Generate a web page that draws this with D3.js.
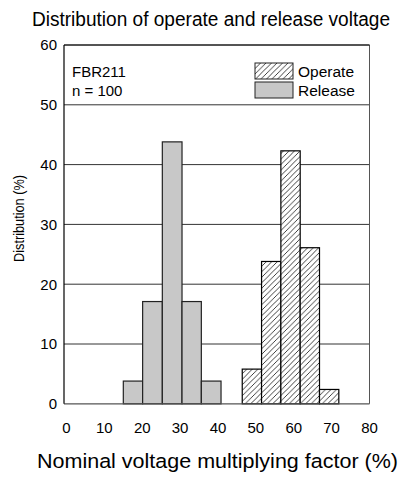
<!DOCTYPE html>
<html>
<head>
<meta charset="utf-8">
<script src="https://cdn.jsdelivr.net/npm/d3@7"></script>
<style>
  body { margin: 0; background: #fff; }
  svg { font-family: "Liberation Sans", Arial, sans-serif; }
</style>
</head>
<body>
<div class="canvas"></div>
<script>
// data
const releaseEdges = [15.0, 20.1, 25.3, 30.5, 35.6, 40.8];
const releaseValues = [3.8, 17.1, 43.8, 17.1, 3.8];
const operateEdges = [46.4, 51.5, 56.6, 61.7, 66.8, 71.9];
const operateValues = [5.8, 23.8, 42.3, 26.1, 2.4];
const xTicks = [0, 10, 20, 30, 40, 50, 60, 70, 80];
const yTicks = [0, 10, 20, 30, 40, 50, 60];
const legendItems = ['Operate', 'Release'];
const notes = ['FBR211', 'n = 100'];

const dims = { width: 404, height: 480 };
const frame = { left: 64, right: 369.5, top: 45, bottom: 403.8 };

const svg = d3.select('.canvas')
    .append('svg')
    .attr('width', dims.width)
    .attr('height', dims.height);

const defs = svg.append('defs');
const hatch = defs.append('pattern')
    .attr('id', 'hatch')
    .attr('patternUnits', 'userSpaceOnUse')
    .attr('width', 5.5)
    .attr('height', 5.5);
hatch.append('rect').attr('width', 5.5).attr('height', 5.5).attr('fill', '#fff');
hatch.append('path')
    .attr('d', 'M0,5.5 L5.5,0 M-1,1 L1,-1 M4.5,6.5 L6.5,4.5')
    .attr('stroke', '#111')
    .attr('stroke-width', 0.8);

const x = d3.scaleLinear().domain([0, 80]).range([66.5, 369.5]);
const y = d3.scaleLinear().domain([0, 60]).range([frame.bottom, frame.top]);

// grid lines
svg.append('g')
    .selectAll('line')
    .data(yTicks.filter(t => t > 0 && t < 60))
    .enter().append('line')
        .attr('x1', frame.left)
        .attr('x2', frame.right)
        .attr('y1', d => y(d))
        .attr('y2', d => y(d))
        .attr('stroke', '#333')
        .attr('stroke-width', 1);

// bars
const toBins = (edges, values) => values.map((v, i) => ({ x0: edges[i], x1: edges[i + 1], v }));

svg.append('g')
    .selectAll('rect')
    .data(toBins(releaseEdges, releaseValues))
    .enter().append('rect')
        .attr('x', d => x(d.x0))
        .attr('width', d => x(d.x1) - x(d.x0))
        .attr('y', d => y(d.v))
        .attr('height', d => y(0) - y(d.v))
        .attr('fill', '#c8c8c8')
        .attr('stroke', '#222')
        .attr('stroke-width', 1.2);

svg.append('g')
    .selectAll('rect')
    .data(toBins(operateEdges, operateValues))
    .enter().append('rect')
        .attr('x', d => x(d.x0))
        .attr('width', d => x(d.x1) - x(d.x0))
        .attr('y', d => y(d.v))
        .attr('height', d => y(0) - y(d.v))
        .attr('fill', 'url(#hatch)')
        .attr('stroke', '#000')
        .attr('stroke-width', 1.2);

// frame
svg.append('path')
    .attr('d', `M${frame.left},${frame.top} H${frame.right} V${frame.bottom}`)
    .attr('fill', 'none')
    .attr('stroke', '#555')
    .attr('stroke-width', 1);
svg.append('line')
    .attr('x1', frame.left).attr('x2', frame.right)
    .attr('y1', frame.top).attr('y2', frame.top)
    .attr('stroke', '#000');
svg.append('line')
    .attr('x1', frame.left).attr('x2', frame.right)
    .attr('y1', frame.bottom).attr('y2', frame.bottom)
    .attr('stroke', '#555').attr('stroke-width', 1.2);
svg.append('line')
    .attr('x1', frame.left).attr('x2', frame.left)
    .attr('y1', frame.top).attr('y2', frame.bottom)
    .attr('stroke', '#000').attr('stroke-width', 1.2);

// y tick labels
svg.append('g')
    .selectAll('text')
    .data(yTicks)
    .enter().append('text')
        .attr('x', 57)
        .attr('y', d => y(d))
        .attr('dy', '0.36em')
        .attr('text-anchor', 'end')
        .attr('font-size', 15)
        .text(d => d);

// x tick labels
svg.append('g')
    .selectAll('text')
    .data(xTicks)
    .enter().append('text')
        .attr('x', d => x(d))
        .attr('y', 433)
        .attr('text-anchor', 'middle')
        .attr('font-size', 15)
        .text(d => d);

// titles (the original face is a narrow sans, so squeeze it horizontally)
svg.append('text')
    .attr('transform', 'translate(211, 26) scale(0.908, 1)')
    .attr('text-anchor', 'middle')
    .attr('font-size', 21)
    .text('Distribution of operate and release voltage');

svg.append('text')
    .attr('x', 37).attr('y', 468)
    .attr('font-size', 20.5)
    .attr('textLength', 361)
    .attr('lengthAdjust', 'spacingAndGlyphs')
    .text('Nominal voltage multiplying factor (%)');

svg.append('text')
    .attr('transform', 'translate(24, 262) rotate(-90)')
    .attr('font-size', 14.5)
    .attr('textLength', 87)
    .attr('lengthAdjust', 'spacingAndGlyphs')
    .text('Distribution (%)');

// notes
svg.append('g')
    .selectAll('text')
    .data(notes)
    .enter().append('text')
        .attr('x', 72)
        .attr('y', (d, i) => 77 + i * 19)
        .attr('font-size', 15)
        .text(d => d);

// legend
const legend = svg.append('g')
    .selectAll('g')
    .data(legendItems)
    .enter().append('g')
        .attr('transform', (d, i) => `translate(255, ${63 + i * 19})`);

legend.append('rect')
    .attr('width', 38)
    .attr('height', 16)
    .attr('fill', d => d === 'Operate' ? 'url(#hatch)' : '#c8c8c8')
    .attr('stroke', '#222')
    .attr('stroke-width', 1);

legend.append('text')
    .attr('x', 43)
    .attr('y', 14)
    .attr('font-size', 15.5)
    .text(d => d);
</script>
</body>
</html>
